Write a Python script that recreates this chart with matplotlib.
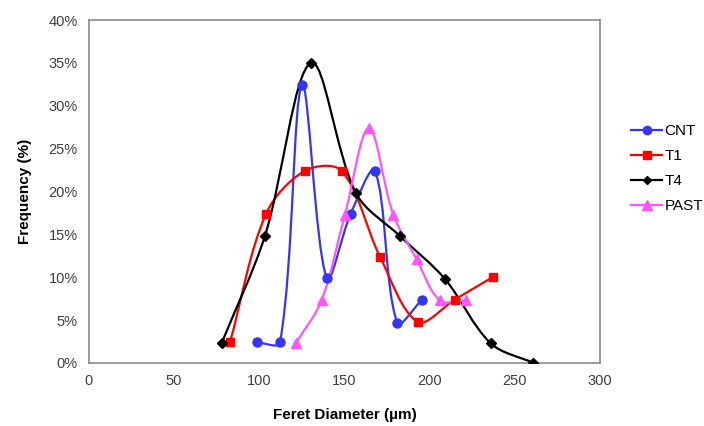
import numpy as np
import matplotlib
matplotlib.use("Agg")
import matplotlib.pyplot as plt
from matplotlib.path import Path
from matplotlib.patches import PathPatch
from matplotlib.lines import Line2D
from matplotlib.ticker import FuncFormatter

plt.rcParams['font.family'] = ['Liberation Sans', 'DejaVu Sans']

# Feret diameter (um) and frequency (%) for each sample
cnt_x = [98.5, 112.2, 125.1, 139.6, 153.7, 167.9, 181.0, 195.3]
cnt_y = [2.4, 2.4, 32.4, 9.9, 17.4, 22.4, 4.7, 7.3]

t1_x = [82.8, 104.0, 126.8, 148.4, 170.9, 193.0, 214.9, 237.0]
t1_y = [2.4, 17.4, 22.4, 22.4, 12.4, 4.8, 7.4, 10.0]

t4_x = [77.9, 103.3, 130.4, 156.8, 182.6, 209.0, 235.9, 261.0]
t4_y = [2.3, 14.8, 35.0, 19.8, 14.8, 9.8, 2.3, 0.0]

past_x = [121.5, 136.6, 150.3, 164.4, 178.7, 192.4, 206.1, 221.4]
past_y = [2.3, 7.3, 17.3, 27.4, 17.3, 12.1, 7.3, 7.3]

series = [
    ("CNT", cnt_x, cnt_y, "#3535f5", "o", 6.5),
    ("T1", t1_x, t1_y, "#ff0000", "s", 6),
    ("T4", t4_x, t4_y, "#000000", "D", 5),
    ("PAST", past_x, past_y, "#ff55ff", "^", 7),
]


def smooth_path(xs, ys, ax, k=1 / 3):
    """Smoothed cubic Bezier through the points; tangents split by segment length on screen."""
    pts = ax.transData.transform(np.column_stack([xs, ys]).astype(float))
    n = len(pts)
    seg = np.hypot(*np.diff(pts, axis=0).T)

    def handle(i, side):
        # side = +1: handle leaving point i, -1: handle entering point i
        a = pts[max(i - 1, 0)]
        b = pts[min(i + 1, n - 1)]
        d_prev = seg[i - 1] if i > 0 else 0.0
        d_next = seg[i] if i < n - 1 else 0.0
        own = d_next if side > 0 else d_prev
        return (b - a) * own / (d_prev + d_next) * k

    verts = [pts[0]]
    codes = [Path.MOVETO]
    for i in range(n - 1):
        c1 = pts[i] + handle(i, +1)
        c2 = pts[i + 1] - handle(i + 1, -1)
        verts += [c1, c2, pts[i + 1]]
        codes += [Path.CURVE4] * 3
    verts = ax.transData.inverted().transform(np.array(verts))
    return Path(verts, codes)


fig = plt.figure(figsize=(7.04, 4.26), dpi=100)
ax = fig.add_axes([0.1264, 0.148, 0.7256, 0.805])
ax.set_xlim(0, 300)
ax.set_ylim(0, 40)

handles = []
for name, xs, ys, color, marker, ms in series:
    patch = PathPatch(smooth_path(xs, ys, ax), facecolor="none", edgecolor=color,
                      linewidth=1.6, zorder=2)
    ax.add_patch(patch)
    ax.plot(xs, ys, linestyle="none", marker=marker, markersize=ms,
            color=color, zorder=3)
    handles.append(Line2D([], [], color=color, linewidth=1.6, marker=marker,
                          markersize=ms - 0.5, label=name))

ax.set_xticks(np.arange(0, 301, 50))
ax.set_yticks(np.arange(0, 41, 5))
ax.yaxis.set_major_formatter(FuncFormatter(lambda v, p: f"{v:.0f}%"))
ax.tick_params(length=0, labelsize=10.5, colors="#404040", pad=8)
for sp in ax.spines.values():
    sp.set_color("#8a8a8a")
    sp.set_linewidth(1.2)

ax.set_xlabel("Feret Diameter (\u00b5m)", fontsize=11, fontweight="bold", labelpad=14)
ax.set_ylabel("Frequency (%)", fontsize=11, fontweight="bold", labelpad=12)

ax.legend(handles=handles, loc="upper left", bbox_to_anchor=(1.05, 0.715),
          frameon=False, fontsize=11, handlelength=2.0, handletextpad=0.15,
          labelspacing=0.72, borderaxespad=0)

fig.savefig("out.png", dpi=100, facecolor="white")
